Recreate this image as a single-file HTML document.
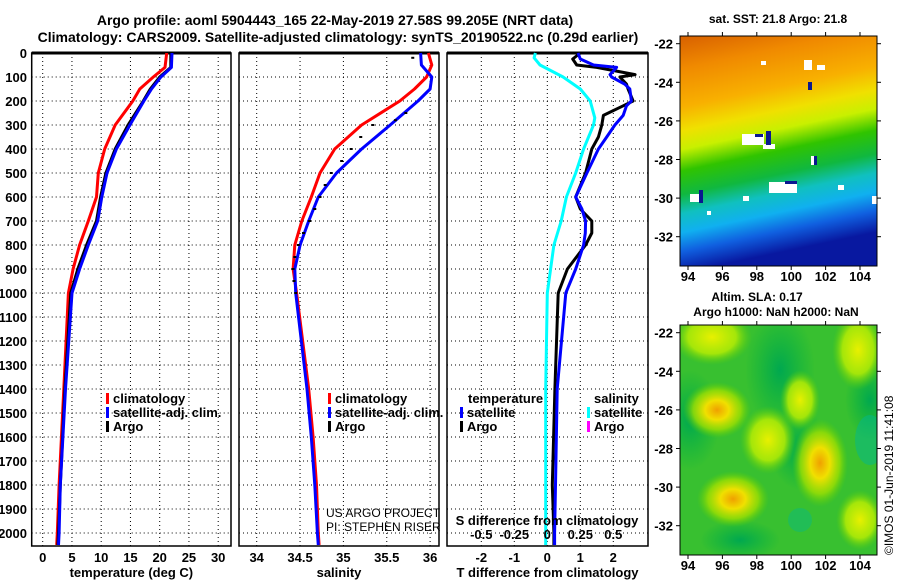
<!DOCTYPE html>
<html><head><meta charset="utf-8"><style>
body{margin:0;background:#fff;}
svg text{font-family:"Liberation Sans",sans-serif;font-weight:bold;fill:#000;}
</style></head><body>
<svg id="chart" width="900" height="580" viewBox="0 0 900 580" xmlns="http://www.w3.org/2000/svg">
<defs>
<linearGradient id="sstgrad" x1="0" y1="0" x2="0.18" y2="1">
<stop offset="0" stop-color="#d86000"/><stop offset="0.14" stop-color="#f08a00"/><stop offset="0.3" stop-color="#f8b000"/><stop offset="0.4" stop-color="#f0e000"/><stop offset="0.48" stop-color="#c8f000"/><stop offset="0.57" stop-color="#30c400"/><stop offset="0.67" stop-color="#10b840"/><stop offset="0.75" stop-color="#10c0c0"/><stop offset="0.83" stop-color="#10b0f0"/><stop offset="0.91" stop-color="#1060e0"/><stop offset="1" stop-color="#0818a0"/>
</linearGradient>
<radialGradient id="blob" cx="0.5" cy="0.5" r="0.5"><stop offset="0" stop-color="#f0a000"/><stop offset="0.35" stop-color="#f0e000"/><stop offset="0.7" stop-color="#a0e000" stop-opacity="0.8"/><stop offset="1" stop-color="#60d000" stop-opacity="0"/></radialGradient>
<radialGradient id="blobY" cx="0.5" cy="0.5" r="0.5"><stop offset="0" stop-color="#e8f000"/><stop offset="0.6" stop-color="#c0f000" stop-opacity="0.8"/><stop offset="1" stop-color="#60d000" stop-opacity="0"/></radialGradient>
<radialGradient id="blobD" cx="0.5" cy="0.5" r="0.5"><stop offset="0" stop-color="#00a850"/><stop offset="1" stop-color="#00b040" stop-opacity="0"/></radialGradient>
<clipPath id="map2clip"><rect x="680" y="325" width="197" height="230"/></clipPath>
</defs>
<text x="335" y="25" font-size="14" text-anchor="middle">Argo profile: aoml 5904443_165 22-May-2019 27.58S 99.205E (NRT data)</text>
<text x="338" y="42" font-size="14" text-anchor="middle">Climatology: CARS2009. Satellite-adjusted climatology: synTS_20190522.nc (0.29d earlier)</text>
<g id="plots"></g>
<g id="maps">
<rect x="680" y="36" width="197" height="230" fill="url(#sstgrad)"/>
<g fill="#fff">
<rect x="742" y="134" width="22" height="11"/><rect x="763" y="144" width="12" height="5"/><rect x="769" y="182" width="28" height="11"/><rect x="690" y="194" width="13" height="8"/><rect x="804" y="60" width="8" height="10"/><rect x="817" y="65" width="8" height="5"/><rect x="761" y="61" width="5" height="4"/><rect x="743" y="196" width="6" height="5"/><rect x="811" y="156" width="5" height="9"/><rect x="838" y="185" width="6" height="5"/><rect x="872" y="196" width="5" height="8"/><rect x="707" y="211" width="4" height="4"/></g>
<g fill="#0a1890"><rect x="766" y="131" width="5" height="14"/><rect x="785" y="181" width="12" height="3"/><rect x="699" y="190" width="4" height="13"/><rect x="808" y="82" width="4" height="8"/><rect x="814" y="156" width="3" height="9"/><rect x="755" y="134" width="8" height="3"/></g>
<rect x="680" y="325" width="197" height="230" fill="#38c030"/>
<g clip-path="url(#map2clip)">
<ellipse cx="690" cy="420" rx="30" ry="50" fill="url(#blobD)"/><ellipse cx="780" cy="370" rx="35" ry="60" fill="url(#blobD)"/><ellipse cx="870" cy="400" rx="25" ry="40" fill="url(#blobD)"/><ellipse cx="800" cy="450" rx="30" ry="40" fill="url(#blobD)"/><ellipse cx="740" cy="540" rx="40" ry="20" fill="url(#blobD)"/>
<ellipse cx="712" cy="337" rx="40" ry="28" fill="url(#blobY)"/><ellipse cx="717" cy="410" rx="34" ry="28" fill="url(#blob)"/><ellipse cx="768" cy="440" rx="28" ry="34" fill="url(#blobY)"/><ellipse cx="820" cy="463" rx="28" ry="44" fill="url(#blob)"/><ellipse cx="733" cy="499" rx="36" ry="28" fill="url(#blob)"/><ellipse cx="858" cy="350" rx="26" ry="40" fill="url(#blobY)"/><ellipse cx="860" cy="520" rx="24" ry="30" fill="url(#blobY)"/><ellipse cx="800" cy="400" rx="20" ry="30" fill="url(#blobY)"/><ellipse cx="870" cy="440" rx="15" ry="25" fill="#00b890" opacity="0.5"/><ellipse cx="800" cy="520" rx="12" ry="12" fill="#00b890" opacity="0.4"/>
</g>
</g>
<text transform="translate(893,555) rotate(-90)" font-size="12" style="font-weight:normal">©IMOS 01-Jun-2019 11:41:08</text>
<text x="778" y="23" font-size="12" text-anchor="middle">sat. SST: 21.8 Argo: 21.8</text>
<text x="757" y="301" font-size="12" text-anchor="middle">Altim. SLA: 0.17</text>
<text x="776" y="316" font-size="12" text-anchor="middle">Argo h1000: NaN h2000: NaN</text>
</svg>
<script>
// depth axis shared
const depthTicks=[0,100,200,300,400,500,600,700,800,900,1000,1100,1200,1300,1400,1500,1600,1700,1800,1900,2000];
// temperature panel
const tempTicks=[0,5,10,15,20,25,30];
const tDepth=[0,60,100,150,200,300,400,500,600,700,800,900,1000,1400,1800,2000,2050];
const tClim=[21.2,20.9,18.9,16.6,15.4,12.4,10.6,9.5,9.2,7.8,6.3,5.2,4.4,3.6,2.8,2.5,2.4];
const tSat=[22.1,22.0,20.2,18.6,17.3,14.9,12.6,11.0,10.1,9.4,7.8,6.3,5.0,3.9,3.0,2.8,2.7];
const tArgo=[21.9,21.9,20.0,18.4,17.2,14.6,12.4,10.8,9.9,9.2,7.5,6.0,4.8,3.8,3.0,2.7,2.6];
// salinity panel
const salTicks=[34,34.5,35,35.5,36];
const sDepth=[0,50,100,150,200,300,400,500,600,700,800,900,1000,1400,1600,1800,2000,2050];
const sClim=[35.98,36.02,35.96,35.82,35.65,35.21,34.90,34.73,34.63,34.52,34.44,34.42,34.46,34.60,34.65,34.69,34.71,34.72];
const sSat=[35.89,35.90,36.02,36.00,35.86,35.54,35.21,34.92,34.71,34.60,34.50,34.44,34.45,34.58,34.63,34.67,34.70,34.71];
const sArgoDepth=[20,250,280,300,350,400,450,500,550,600,650,700,750,800,850,900,950,1000];
const sArgo=[35.80,35.72,35.60,35.34,35.20,35.09,34.98,34.86,34.79,34.73,34.67,34.61,34.54,34.48,34.44,34.42,34.43,34.45];
// difference panel
const dTTicks=[-2,-1,0,1,2];
const dSTicks=[-0.5,-0.25,0,0.25,0.5];
const dSTickLabels=["-0.5","-0.25","0","0.25","0.5"];
const dDepth=[0,25,50,60,90,100,130,150,200,220,260,300,350,400,500,600,650,700,750,800,900,1000,1400,1800,2000,2050];
const dTArgo=[1.0,0.77,0.89,1.5,2.66,2.2,2.4,2.45,2.6,2.3,1.7,1.65,1.55,1.35,1.16,0.86,1.0,1.35,1.35,1.16,0.61,0.33,0.23,0.15,0.2,0.2];
const dTSat=[0.93,1.0,1.4,2.1,1.9,1.95,2.35,2.5,2.55,2.4,2.3,2.05,1.8,1.55,1.2,0.86,1.05,1.16,1.15,1.1,0.86,0.56,0.3,0.25,0.22,0.22];
const sDiffDepth=[0,20,50,100,150,200,270,300,400,500,600,700,800,900,1000,1400,2050];
const dSSat=[-0.09,-0.1,-0.055,0.12,0.25,0.325,0.36,0.35,0.275,0.215,0.145,0.105,0.05,0.025,0,-0.012,-0.012];
// map axes
const lonTicks=[94,96,98,100,102,104];
const latTicks=[-22,-24,-26,-28,-30,-32];

const NS='http://www.w3.org/2000/svg';
const root=document.getElementById('plots');
function mk(tag,attrs,parent){const e=document.createElementNS(NS,tag);for(const k in attrs)e.setAttribute(k,attrs[k]);(parent||root).appendChild(e);return e;}
const Y0=53,Y1=546;
const yD=d=>Y0+d*0.24;
const xT=v=>42.7+5.85*v;
const xS=v=>256.7+86.7*(v-34);
const xD=v=>547.3+33*v;
const xDS=v=>xD(v*4);

const panels=[{l:31.7,r:231,sc:xT,ticks:tempTicks,lab:tempTicks.map(String),title:'temperature (deg C)',name:'temperature-panel'},
{l:239,r:439,sc:xS,ticks:salTicks,lab:salTicks.map(String),title:'salinity',name:'salinity-panel'},
{l:447,r:648,sc:xD,ticks:dTTicks,lab:dTTicks.map(String),title:'T difference from climatology',name:'difference-panel'}];
panels.forEach((p,i)=>{
  const g=mk('g',{});
  
  
  depthTicks.forEach(d=>{const ln=mk('line',{x1:p.l,x2:p.r,y1:yD(d),y2:yD(d),stroke:'#000','stroke-width':1,'stroke-dasharray':'1,3'},g);
    
    });
  p.ticks.forEach((t,k)=>{const x=p.sc(t);
    const ln=mk('line',{x1:x,x2:x,y1:Y0,y2:Y1,stroke:'#000','stroke-width':1,'stroke-dasharray':'1,3'},g);
    
    
    const tx=mk('text',{x:x,y:562,'font-size':13,'text-anchor':'middle'},g);tx.textContent=p.lab[k];
    
    });
  const fr=mk('rect',{x:p.l,y:Y0,width:p.r-p.l,height:Y1-Y0,fill:'none',stroke:'#000','stroke-width':1.5},g);
  
  
  mk('line',{x1:p.l,x2:p.r,y1:Y0,y2:Y0,stroke:'#000','stroke-width':3},g);
  const tt=mk('text',{x:(p.l+p.r)/2,y:577,'font-size':13,'text-anchor':'middle'},g);tt.textContent=p.title;
  
  
});
depthTicks.forEach(d=>{const tx=mk('text',{x:27,y:yD(d)+5,'font-size':13,'text-anchor':'end'});tx.textContent=String(d);
  
  });

function line(xs,ds,sx,color,w,name){
  const pts=xs.map((v,i)=>sx(v).toFixed(1)+','+yD(ds[i]).toFixed(1)).join(' ');
  const e=mk('polyline',{points:pts,fill:'none',stroke:color,'stroke-width':w,'stroke-linejoin':'round'});
  
  
}
line(tClim,tDepth,xT,'#f00',3,'temp-climatology-line');
line(tArgo,tDepth,xT,'#000',3,'temp-argo-line');
line(tSat,tDepth,xT,'#00f',3,'temp-satellite-line');
line(sClim,sDepth,xS,'#f00',3,'sal-climatology-line');
line(sSat,sDepth,xS,'#00f',3,'sal-satellite-line');
sArgo.forEach((v,i)=>{const e=mk('line',{x1:xS(v)-1.5,x2:xS(v)+1.5,y1:yD(sArgoDepth[i]),y2:yD(sArgoDepth[i]),stroke:'#000','stroke-width':2});
  
  });
line(dSSat,sDiffDepth,xDS,'#0ff',3,'sdiff-satellite-line');
line(dTArgo,dDepth,xD,'#000',3,'tdiff-argo-line');
line(dTSat,dDepth,xD,'#00f',3,'tdiff-satellite-line');

const st=mk('text',{x:547,y:525,'font-size':13,'text-anchor':'middle'});st.textContent='S difference from climatology';


dSTicks.forEach((v,i)=>{const tx=mk('text',{x:xDS(v),y:539,'font-size':13,'text-anchor':'middle'});tx.textContent=dSTickLabels[i];
  
  });

function leg(x,y,color,label,name){
  const g=mk('g',{});
  
  
  mk('rect',{x:x,y:y-10,width:3,height:11,fill:color},g);
  const t=mk('text',{x:x+7,y:y,'font-size':13},g);t.textContent=label;
}
leg(106,403,'#f00','climatology','legend-climatology');
leg(106,417,'#00f','satellite-adj. clim.','legend-satellite');
leg(106,431,'#000','Argo','legend-argo');
leg(328,403,'#f00','climatology','legend-climatology');
leg(328,417,'#00f','satellite-adj. clim.','legend-satellite');
leg(328,431,'#000','Argo','legend-argo');
const lt=mk('text',{x:468,y:403,'font-size':13});lt.textContent='temperature';


const ls=mk('text',{x:594,y:403,'font-size':13});ls.textContent='salinity';


leg(460,417,'#00f','satellite','legend-t-satellite');
leg(460,431,'#000','Argo','legend-t-argo');
leg(587,417,'#0ff','satellite','legend-s-satellite');
leg(587,431,'#f0f','Argo','legend-s-argo');
[['US ARGO PROJECT',517],['PI: STEPHEN RISER',531]].forEach(a=>{const t=mk('text',{x:326,y:a[1],'font-size':12,style:'font-weight:normal'});t.textContent=a[0];
  
  });

const mapsG=document.getElementById('maps');
[[36,266,281],[325,555,570]].forEach(m=>{
  const top=m[0],bot=m[1];
  const lonX=v=>688+17.2*(v-94);
  const latY=v=>top+7.7+19.3*(-22-v);
  mk('rect',{x:680,y:top,width:197,height:bot-top,fill:'none',stroke:'#000','stroke-width':1},mapsG);
  lonTicks.forEach(v=>{
    mk('line',{x1:lonX(v),x2:lonX(v),y1:bot,y2:bot+4,stroke:'#000'},mapsG);
    mk('line',{x1:lonX(v),x2:lonX(v),y1:top,y2:top-4,stroke:'#000'},mapsG);
    const t=mk('text',{x:lonX(v),y:m[2],'font-size':13,'text-anchor':'middle'},mapsG);t.textContent=String(v);
    
    
  });
  latTicks.forEach(v=>{
    mk('line',{x1:676,x2:680,y1:latY(v),y2:latY(v),stroke:'#000'},mapsG);
    mk('line',{x1:877,x2:881,y1:latY(v),y2:latY(v),stroke:'#000'},mapsG);
    const t=mk('text',{x:673,y:latY(v)+5,'font-size':13,'text-anchor':'end'},mapsG);t.textContent=String(v);
    
    
  });
});
</script>
</body></html>
